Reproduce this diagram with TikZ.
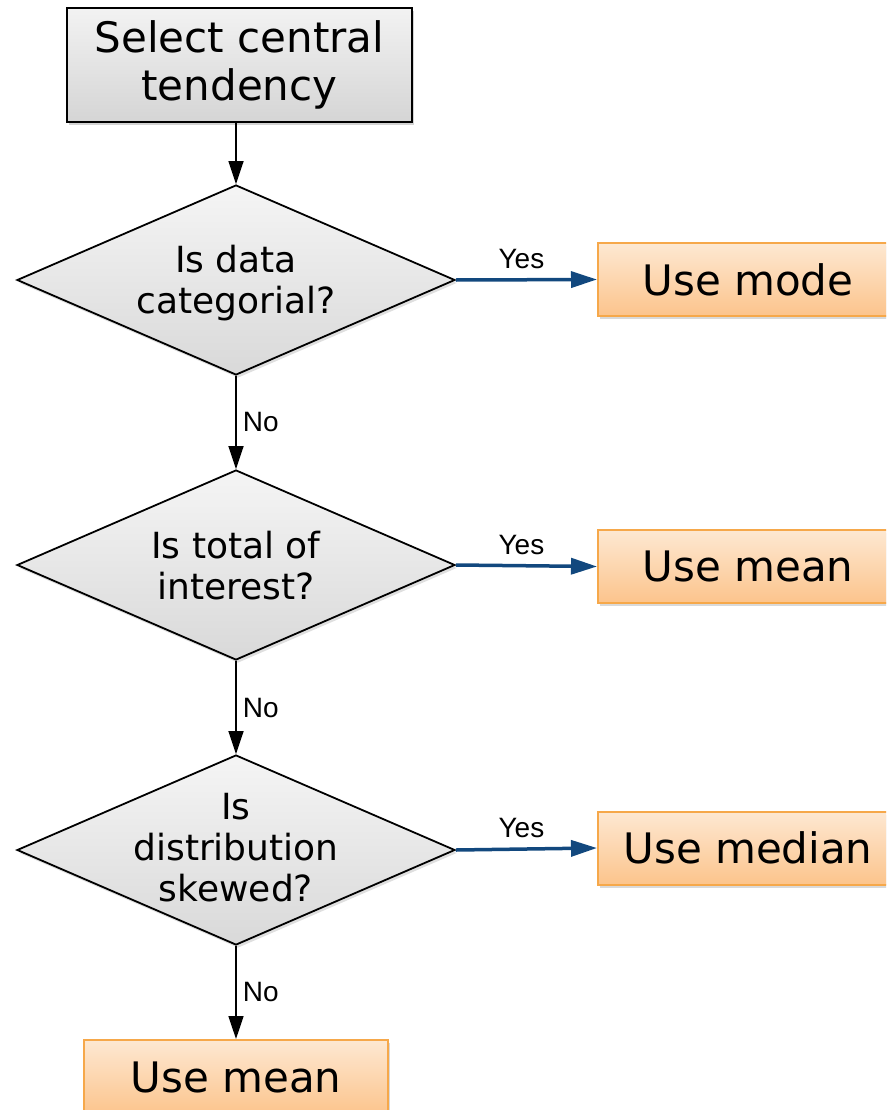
\documentclass[tikz,border=0pt]{standalone}
\usepackage{fontspec}
\setmainfont{DejaVu Sans}
\newfontfamily\yesnofont{Liberation Sans}
\usetikzlibrary{arrows.meta,shapes.geometric,shadows}

\definecolor{boxorange}{RGB}{246,168,74}
\definecolor{orangetop}{RGB}{253,232,210}
\definecolor{orangebot}{RGB}{252,196,140}
\definecolor{yesblue}{RGB}{18,72,126}

\begin{document}
\begin{tikzpicture}[x=1pt,y=-1pt]
\useasboundingbox (0,0) rectangle (886,1110);
\clip (0,0) rectangle (886,1110);
\begin{scope}[every node/.style={draw=black,line width=2pt,top color=gray!10,bottom color=gray!33,drop shadow={shadow xshift=2pt,shadow yshift=-3pt,opacity=0.35},align=center,inner sep=0pt,font=\fontsize{42}{48}\selectfont}]
	\node[minimum width=345pt,minimum height=114pt] (start) at (239.5,65) {Select central\\tendency};
\end{scope}
\begin{scope}[every node/.style={diamond,draw=black,line width=1.8pt,top color=gray!8,bottom color=gray!30,drop shadow={shadow xshift=2pt,shadow yshift=-3pt,opacity=0.25},minimum width=438pt,minimum height=190pt,inner sep=0pt}]
	\node (q1) at (236,280) {};
	\node (q2) at (236,565) {};
	\node (q3) at (236,850) {};
\end{scope}
\begin{scope}[every node/.style={align=center,inner sep=0pt,font=\fontsize{36}{41}\selectfont}]
	\node (q1text) at (236,283) {Is data\\categorial?};
	\node (q2text) at (236,566) {Is total of\\interest?};
	\node (q3text) at (236,848) {Is\\distribution\\skewed?};
\end{scope}
\begin{scope}[every node/.style={draw=boxorange,line width=2pt,top color=orangetop,bottom color=orangebot,drop shadow={shadow xshift=2pt,shadow yshift=-3pt,opacity=0.3},minimum width=300pt,minimum height=73pt,inner sep=0pt,font=\fontsize{42}{48}\selectfont}]
	\node (mode) at (748,279.5) {Use mode};
	\node (mean) at (748,566.5) {Use mean};
	\node (median) at (748,848) {Use median};
	\node[minimum width=304pt,minimum height=75pt] (meanlast) at (236,1077.5) {Use mean};
\end{scope}
\begin{scope}[>={Triangle[length=23pt,width=15pt]}, every edge/.style={draw=black,line width=1.6pt}, every node/.style={font=\yesnofont\fontsize{28}{32}\selectfont,inner sep=2pt}]
	\path [->] (start.south -| q1.north) edge (q1.north);
	\path [->] (q1.south) edge node[right=4pt] (no1) {No} (q2.north);
	\path [->] (q2.south) edge node[right=4pt] (no2) {No} (q3.north);
	\path [->] (q3.south) edge node[right=4pt] (no3) {No} (meanlast.north -| q3.south);
\end{scope}
\begin{scope}[>={Triangle[length=26pt,width=16pt]}, every edge/.style={draw=yesblue,line width=3.5pt}, every node/.style={font=\yesnofont\fontsize{28}{32}\selectfont,inner sep=2pt}]
	\path [->] (q1.east) edge node[above=7pt,xshift=-5pt] (yes1) {Yes} (mode.west);
	\path [->] (q2.east) edge node[above=7pt,xshift=-5pt] (yes2) {Yes} (mean.west);
	\path [->] (q3.east) edge node[above=7pt,xshift=-5pt] (yes3) {Yes} (median.west);
\end{scope}
\end{tikzpicture}
\end{document}
